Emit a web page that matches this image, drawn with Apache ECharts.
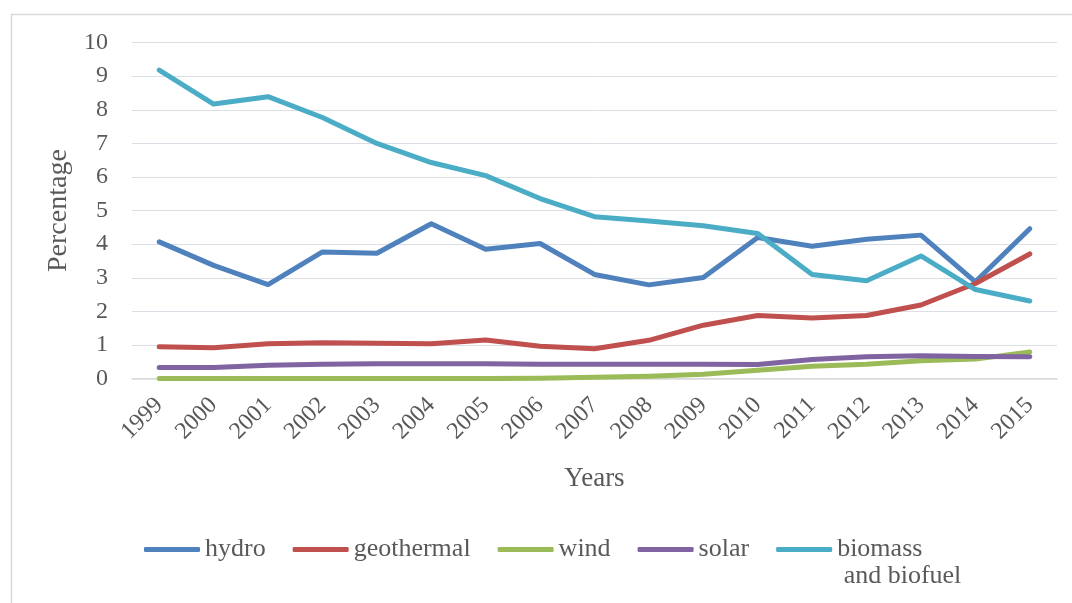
<!DOCTYPE html>
<html>
<head>
<meta charset="utf-8">
<script src="https://cdn.jsdelivr.net/npm/echarts@6/dist/echarts.min.js"></script>
<style>
  html, body { margin: 0; padding: 0; background: #ffffff; }
  #chart { width: 1072px; height: 603px; }
</style>
</head>
<body>
<div id="chart"></div>
<script>
// Share of renewable sources, in percent, per year
const years = ['1999','2000','2001','2002','2003','2004','2005','2006','2007','2008','2009','2010','2011','2012','2013','2014','2015'];
const hydro      = [4.07, 3.37, 2.80, 3.77, 3.73, 4.61, 3.85, 4.02, 3.10, 2.79, 3.01, 4.20, 3.94, 4.15, 4.27, 2.88, 4.46];
const geothermal = [0.95, 0.92, 1.04, 1.07, 1.05, 1.04, 1.15, 0.96, 0.89, 1.14, 1.59, 1.88, 1.80, 1.88, 2.19, 2.83, 3.71];
const wind       = [0.00, 0.00, 0.00, 0.00, 0.00, 0.00, 0.00, 0.01, 0.04, 0.07, 0.13, 0.25, 0.37, 0.43, 0.53, 0.58, 0.79];
const solar      = [0.33, 0.33, 0.40, 0.43, 0.44, 0.44, 0.44, 0.43, 0.43, 0.43, 0.43, 0.42, 0.57, 0.65, 0.68, 0.66, 0.65];
const biomass    = [9.18, 8.17, 8.39, 7.77, 7.00, 6.43, 6.04, 5.36, 4.82, 4.69, 4.55, 4.32, 3.10, 2.91, 3.65, 2.65, 2.31];
const yTicks = { min: 0, max: 10, interval: 1 };

const FONT = "'Liberation Serif', 'DejaVu Serif', serif";
const TEXT = '#595959';
const GRID = '#d9d9d9';
const BIOMASS = 'biomass and biofuel';

function line(name, data, color) {
  return {
    name: name,
    type: 'line',
    data: data,
    symbol: 'none',
    smooth: false,
    lineStyle: { width: 5, color: color, cap: 'round', join: 'round' },
    itemStyle: { color: color }
  };
}

const chart = echarts.init(document.getElementById('chart'), null, { renderer: 'canvas' });
chart.setOption({
  animation: false,
  backgroundColor: '#ffffff',
  graphic: [{
    type: 'rect',
    silent: true,
    z: -1,
    shape: { x: 11.5, y: 14.5, width: 1200, height: 800 },
    style: { fill: 'none', stroke: GRID, lineWidth: 1.5 }
  }],
  grid: { left: 132, right: 15, top: 42.6, bottom: 224.4 },
  xAxis: {
    type: 'category',
    data: years,
    boundaryGap: true,
    name: 'Years',
    nameLocation: 'middle',
    nameGap: 87,
    nameTextStyle: { fontFamily: FONT, fontSize: 27, color: TEXT },
    axisLine: { show: true, lineStyle: { color: GRID, width: 1.5 } },
    axisTick: { show: false },
    axisLabel: { rotate: 45, margin: 23, fontFamily: FONT, fontSize: 24, color: TEXT }
  },
  yAxis: {
    type: 'value',
    min: yTicks.min,
    max: yTicks.max,
    interval: yTicks.interval,
    name: 'Percentage',
    nameLocation: 'middle',
    nameRotate: 90,
    nameGap: 56,
    nameTextStyle: { fontFamily: FONT, fontSize: 28, color: TEXT },
    axisLine: { show: false },
    axisTick: { show: false },
    axisLabel: { margin: 24, fontFamily: FONT, fontSize: 24, color: TEXT }
  },
  legend: {
    left: 139,
    top: 504,
    icon: 'roundRect',
    itemWidth: 56,
    itemHeight: 5,
    itemGap: 27,
    textStyle: { fontFamily: FONT, fontSize: 26, color: TEXT, lineHeight: 27 },
    // the long name wraps onto a second line, with its first line level with the swatch
    formatter: function (name) {
      return name === BIOMASS ? '\nbiomass\n and biofuel' : name;
    },
    data: ['hydro', 'geothermal', 'wind', 'solar', BIOMASS]
  },
  series: [
    line('hydro', hydro, '#4f81bd'),
    line('geothermal', geothermal, '#c0504d'),
    line('wind', wind, '#9bbb59'),
    line('solar', solar, '#8064a2'),
    line(BIOMASS, biomass, '#4bacc6')
  ]
});
</script>
</body>
</html>
